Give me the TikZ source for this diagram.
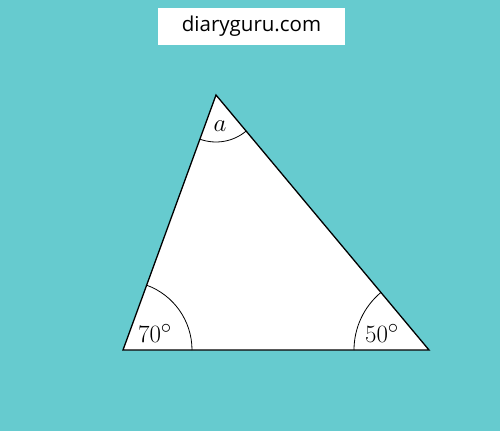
\documentclass[tikz,border=0pt]{standalone}
\usepackage{fontspec}
\newfontfamily\logofont{Open Sans}
\usepackage{xcolor}
\usepackage{tikz}
\usetikzlibrary{calc, positioning}

\definecolor{teal bg}{RGB}{102,203,207}

\begin{document}
\begin{tikzpicture}[
            x=1pt, y=1pt,
            banner/.style={fill=white, minimum width=187pt, minimum height=37pt, inner sep=0pt,
                font=\logofont\fontsize{20.5}{20.5}\selectfont},
            side/.style={line width=1.3pt, line join=miter},
            anglemark/.style={line width=0.8pt},
            angle/.style={font=\fontsize{31}{31}\selectfont, inner sep=0pt}
        ]

        % Background and frame
        \fill[teal bg] (0,0) rectangle (500,431);
        \useasboundingbox (0,0) rectangle (500,431);

        % Logo
        \node[banner] (logo) at (251.5,404.5) {diaryguru.com};

        % Vertices (manual layout to match figure)
        \coordinate (A) at (216,336);
        \coordinate (B) at (123,81);
        \coordinate (C) at (429,81);

        % Triangle
        \fill[white] (A) -- (B) -- (C) -- cycle;
        \draw[side] (A) -- (B) -- (C) -- cycle;

        % Angle marks
        \draw[anglemark] ($(B)+(69,0)$) arc (0:70:69);
        \draw[anglemark] ($(C)+(-75,0)$) arc (180:130:75);
        \draw[anglemark] ($(A)+(250:47)$) arc (250:310:47);

        % Labels
        \node[angle] (ta) at (220,305) {$a$};
        \node[angle] (tb) at (155,98) {$70^\circ$};
        \node[angle] (tc) at (382,98) {$50^\circ$};

    \end{tikzpicture}
\end{document}
